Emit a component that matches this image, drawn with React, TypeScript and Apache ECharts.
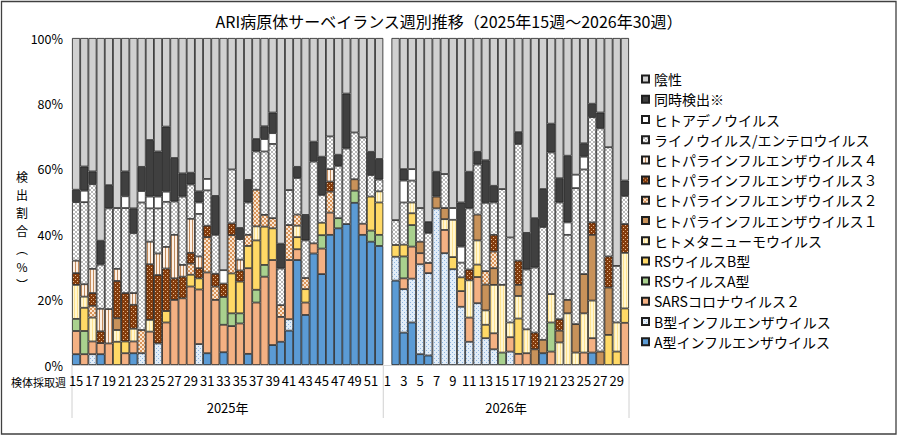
import React, { useEffect, useRef } from "react";
import * as echarts from "echarts";

const FONT = '"Noto Sans CJK JP", "Noto Sans", sans-serif';

const titleText = "ARI病原体サーベイランス週別推移（2025年15週～2026年30週）";
const weekAxisName = "検体採取週";
const yAxisTitle = ["検", "出", "割", "合", "︵", "%", "︶"];
const years = ["2025年", "2026年"];

const weeks2025 = ["15","16","17","18","19","20","21","22","23","24","25","26","27","28","29","30","31","32","33","34","35","36","37","38","39","40","41","42","43","44","45","46","47","48","49","50","51","52"];
const weeks2026 = ["1","2","3","4","5","6","7","8","9","10","11","12","13","14","15","16","17","18","19","20","21","22","23","24","25","26","27","28","29","30"];

const seriesNames = [
  "A型インフルエンザウイルス",
  "B型インフルエンザウイルス",
  "SARSコロナウイルス２",
  "RSウイルスA型",
  "RSウイルスB型",
  "ヒトメタニューモウイルス",
  "ヒトパラインフルエンザウイルス１",
  "ヒトパラインフルエンザウイルス２",
  "ヒトパラインフルエンザウイルス３",
  "ヒトパラインフルエンザウイルス４",
  "ライノウイルス/エンテロウイルス",
  "ヒトアデノウイルス",
  "同時検出※",
  "陰性",
];

// values in % ; 2025 wk15-52 then 2026 wk1-30
const fluA = [
  3.3, 0, 0, 3.3, 0, 0, 0, 3.6, 0, 0,
  0, 0, 0, 0, 0, 0, 3.6, 0, 3.9, 0,
  0, 3.4, 0, 0, 6.1, 7.1, 10.5, 32.1, 15.3, 34.1,
  27.8, 39.8, 41.8, 43.1, 49.6, 39.8, 37.7, 36.4,
  null, 25.8, 9.9, 13.0, 3.3, 2.9, 0, 0, 0, 0,
  0, 0, 0, 0, 0, 0, 0, 0, 0, 3.6,
  0, 0, 0, 0, 0, 3.8, 0, 0, 0, 0,
];
const fluB = [
  0, 0, 3.3, 0, 0, 0, 0, 0, 3.6, 0,
  6.6, 0, 0, 0, 0, 6.4, 0, 0, 0, 0,
  0, 0, 0, 0, 0, 0, 3.5, 0, 0, 0,
  0, 0, 0, 0, 0, 0, 0, 0,
  null, 7.3, 13.3, 13.4, 27.5, 25.2, 47.9, 34.2, 29.3, 17.8,
  7.1, 18.9, 8.2, 4.8, 0, 4.1, 0, 0, 0, 0,
  0, 0, 0, 0, 0, 0, 0, 0, 0, 0,
];
const sars = [
  7.1, 3.3, 3.9, 3.4, 6.6, 0, 3.6, 3.6, 0, 10.2,
  0, 13.0, 19.9, 20.4, 24.0, 16.7, 24.7, 19.9, 8.4, 11.9,
  12.7, 26.2, 19.1, 27.0, 26.0, 7.6, 18.1, 3.3, 3.8, 3.1,
  7.8, 6.8, 0, 0, 0, 3.4, 0, 0,
  null, 0, 3.3, 9.8, 3.4, 3.1, 0, 7.1, 0, 4.8,
  7.4, 8.0, 0, 4.9, 0, 4.4, 3.4, 3.6, 0, 0,
  4.1, 0, 0, 0, 3.8, 4.4, 0, 0, 0, 12.9,
];
const rsvA = [
  3.7, 7.1, 0, 0, 0, 0, 0, 0, 0, 0,
  0, 0, 0, 0, 0, 0, 0, 0, 8.5, 3.9,
  3.1, 0, 3.9, 3.6, 0, 0, 0, 0, 0, 0,
  4.1, 0, 3.1, 0, 3.7, 0, 3.4, 3.4,
  null, 0, 6.7, 6.6, 0, 0, 0, 0, 0, 0,
  0, 0, 0, 0, 3.8, 0, 0, 0, 0, 0,
  8.9, 0, 0, 0, 0, 0, 0, 0, 0, 0,
];
const rsvB = [
  0, 7.1, 0, 0, 0, 7.1, 3.6, 0, 0, 0,
  0, 3.5, 0, 0, 3.6, 3.4, 0, 0, 0, 12.2,
  9.7, 6.8, 15.1, 11.7, 9.7, 0, 0, 3.7, 4.1, 0,
  3.8, 0, 0, 0, 0, 0, 10.4, 9.9,
  null, 3.6, 3.6, 3.6, 0, 0, 0, 0, 3.7, 4.2,
  0, 3.8, 4.1, 0, 0, 0, 10.8, 0, 0, 0,
  0, 0, 0, 0, 0, 0, 0, 9.2, 4.1, 4.4,
];
const hmpv = [
  10.4, 3.4, 7.3, 0, 0, 3.6, 0, 3.9, 0, 3.6,
  0, 0, 0, 0, 0, 0, 0, 0, 0, 0,
  0, 0, 4.3, 0, 0, 0, 0, 3.5, 0, 0,
  0, 0, 0, 0, 0, 0, 0, 3.4,
  null, 0, 0, 3.3, 0, 0, 0, 3.3, 11.4, 0,
  11.4, 7.4, 4.4, 14.8, 20.7, 4.5, 6.9, 7.3, 0, 0,
  8.7, 6.9, 15.8, 3.8, 12.0, 11.5, 0, 0, 8.9, 17.0,
];
const para1 = [
  0, 0, 0, 0, 0, 3.6, 0, 0, 0, 0,
  0, 0, 0, 0, 0, 0, 0, 0, 0, 0,
  0, 0, 0, 0, 0, 0, 0, 0, 0, 0,
  0, 0, 0, 0, 3.5, 0, 0, 0,
  null, 0, 0, 0, 3.5, 0, 3.6, 3.4, 0, 0,
  0, 7.9, 7.9, 5.1, 0, 0, 3.4, 0, 4.8, 4.1,
  0, 3.6, 4.1, 8.7, 12.0, 20.1, 4.1, 14.5, 0, 0,
];
const para2 = [
  0, 0, 3.6, 0, 0, 0, 0, 0, 7.1, 0,
  0, 0, 0, 0, 3.4, 0, 10.8, 4.1, 0, 11.7,
  0, 3.4, 11.2, 3.6, 3.1, 3.6, 10.7, 3.4, 3.4, 0,
  0, 6.4, 0, 0, 0, 0, 0, 0,
  null, 0, 0, 0, 0, 0, 0, 0, 0, 0,
  0, 0, 4.1, 5.1, 0, 0, 0, 0, 0, 0,
  0, 0, 0, 0, 0, 0, 0, 0, 0, 0,
];
const para3 = [
  3.6, 0, 3.9, 3.6, 0, 11.4, 14.8, 7.3, 0, 17.0,
  20.9, 13.0, 6.6, 6.6, 3.3, 3.1, 3.5, 3.9, 4.1, 3.6,
  3.4, 0, 0, 0, 0, 0, 0, 0, 0, 0,
  0, 3.1, 0, 0, 0, 0, 0, 0,
  null, 0, 0, 0, 0, 0, 0, 0, 0, 0,
  3.3, 0, 0, 5.1, 0, 0, 7.4, 0, 5.1, 0,
  0, 3.5, 0, 0, 0, 3.8, 0, 9.5, 0, 8.8,
];
const para4 = [
  3.8, 3.8, 7.4, 6.9, 10.5, 3.7, 0, 3.6, 0, 6.9,
  6.6, 6.6, 13.3, 3.6, 10.4, 3.6, 0, 0, 0, 0,
  3.3, 0, 0, 0, 0, 0, 0, 0, 0, 0,
  0, 3.8, 0, 0, 0, 0, 0, 0,
  null, 0, 0, 0, 0, 0, 0, 0, 0, 0,
  0, 0, 0, 0, 0, 0, 0, 0, 0, 0,
  0, 0, 0, 0, 0, 0, 0, 0, 0, 0,
];
const rhino = [
  17.9, 25.1, 25.9, 13.5, 30.8, 18.6, 26.0, 18.3, 39.0, 10.2,
  13.8, 13.8, 10.2, 20.9, 10.5, 13.0, 10.8, 11.9, 0, 16.5,
  6.3, 9.9, 11.7, 19.4, 22.7, 11.2, 10.7, 11.2, 11.5, 25.0,
  8.5, 10.0, 16.0, 23.1, 14.3, 26.4, 6.6, 3.6,
  null, 7.6, 12.9, 6.7, 10.3, 9.2, 0, 10.4, 0, 4.5,
  18.7, 15.3, 20.9, 9.9, 29.3, 26.0, 35.7, 18.3, 19.9, 34.5,
  43.3, 35.7, 19.9, 41.6, 32.0, 32.2, 68.3, 33.4, 17.3, 8.6,
];
const adeno = [
  0, 3.5, 0, 0, 0, 0, 3.6, 0, 3.5, 3.6,
  3.6, 3.1, 0, 0, 0, 3.5, 3.5, 0, 4.1, 0,
  0, 0, 0, 3.8, 3.3, 0, 0, 0, 0, 0,
  0, 0, 0, 0, 0, 0, 0, 0,
  null, 0, 6.7, 3.5, 0, 0, 0, 0, 3.6, 4.9,
  0, 0, 0, 0, 0, 0, 0, 0, 0, 0,
  0, 0, 3.8, 4.1, 3.9, 0, 0, 0, 0, 0,
];
const multi = [
  3.8, 7.4, 3.9, 7.3, 7.1, 0, 7.6, 7.6, 7.4, 17.3,
  13.8, 19.9, 13.3, 7.1, 3.6, 3.4, 0, 11.9, 0, 0,
  3.4, 6.9, 3.8, 3.9, 6.3, 7.6, 0, 3.4, 7.8, 6.1,
  11.7, 0, 3.4, 16.8, 0, 0, 7.1, 6.3,
  null, 0, 3.5, 0, 0, 3.3, 7.6, 0, 0, 13.5,
  11.2, 3.9, 13.0, 5.1, 0, 0, 3.6, 11.2, 15.1, 11.6,
  8.8, 7.4, 20.4, 0, 4.1, 4.1, 4.8, 0, 0, 4.7,
];
const negative = [
  46.4, 39.3, 40.8, 62.0, 45.0, 52.0, 40.8, 52.1, 39.4, 31.2,
  34.7, 27.1, 36.7, 41.4, 41.2, 46.9, 43.1, 48.3, 71.0, 40.2,
  58.1, 43.4, 30.9, 27.0, 22.8, 62.9, 46.5, 39.4, 54.1, 31.7,
  36.3, 30.1, 35.7, 17.0, 28.9, 30.4, 34.8, 37.0,
  null, 55.7, 40.1, 40.1, 52.0, 56.3, 40.9, 41.6, 52.0, 50.3,
  40.9, 34.8, 37.4, 45.2, 46.2, 61.0, 28.8, 59.6, 55.1, 46.2,
  26.2, 42.9, 36.0, 41.8, 32.2, 20.1, 22.8, 33.4, 69.7, 43.6,
];

const seriesValues = [fluA, fluB, sars, rsvA, rsvB, hmpv, para1, para2, para3, para4, rhino, adeno, multi, negative];

function tile(w: number, h: number, bg: string, fg: string, pts: number[][]) {
  const c = document.createElement("canvas");
  c.width = w;
  c.height = h;
  const g = c.getContext("2d");
  if (g) {
    g.fillStyle = bg;
    g.fillRect(0, 0, w, h);
    g.fillStyle = fg;
    pts.forEach(([x, y]) => g.fillRect(x, y, 1, 1));
  }
  return { image: c, repeat: "repeat", imageWidth: w, imageHeight: h };
}

export default function App() {
  const ref = useRef<HTMLDivElement>(null);
  useEffect(() => {
    document.body.style.margin = "0";
    const el = ref.current;
    if (!el) return;
    const chart = echarts.init(el, undefined, { renderer: "svg" });

    const colors: any[] = [
      "#5b9bd5",
      tile(4, 4, "#e2edf8", "#8db3de", [[0, 0], [2, 2]]),
      "#f4b183",
      "#a9d18e",
      "#ffd966",
      tile(3, 1, "#fff6d2", "#ffe38f", [[2, 0]]),
      "#c8925a",
      tile(4, 4, "#d9955a", "#fbe6d2", [[0, 0], [1, 0], [0, 1], [1, 1], [2, 2], [3, 2], [2, 3], [3, 3]]),
      tile(4, 4, "#843c0c", "#e8bc94", [[1, 1], [3, 3]]),
      tile(3, 1, "#fcefe4", "#c38c5c", [[0, 0]]),
      tile(4, 4, "#ffffff", "#bababa", [[0, 0], [1, 1], [2, 2], [3, 3], [3, 0], [2, 1], [1, 2], [0, 3]]),
      "#ffffff",
      "#404040",
      "#d0d0d0",
    ];

    const categories = [...weeks2025, ...weeks2026];

    chart.setOption({
      animation: false,
      backgroundColor: "#ffffff",
      title: {
        text: titleText,
        left: "center",
        top: 8,
        textStyle: { fontFamily: FONT, fontSize: 16, fontWeight: "normal", color: "#000" },
      },
      legend: {
        data: [...seriesNames].reverse(),
        orient: "vertical",
        left: 641,
        top: 72,
        padding: 0,
        itemWidth: 7,
        itemHeight: 7,
        itemGap: 6,
        icon: "rect",
        selectedMode: false,
        textStyle: { fontFamily: FONT, fontSize: 14, lineHeight: 14.2, color: "#000" },
      },
      grid: { left: 72, right: 269, top: 38, bottom: 72 },
      xAxis: {
        type: "category",
        data: categories,
        axisTick: { show: false },
        axisLine: { lineStyle: { color: "#d9d9d9", width: 1 } },
        axisLabel: { interval: 1, fontSize: 13, color: "#000", margin: 9, fontFamily: FONT },
        splitLine: { show: false },
      },
      yAxis: {
        type: "value",
        min: 0,
        max: 100,
        interval: 20,
        axisLabel: { formatter: "{value}%", fontSize: 12.5, color: "#000", margin: 9, fontFamily: FONT },
        splitLine: { show: false },
        axisLine: { show: false },
        axisTick: { show: false },
      },
      series: seriesNames.map((name, k) => ({
        name,
        type: "bar",
        stack: "total",
        barCategoryGap: "0%",
        data: seriesValues[k].map((v) => (v === 0 ? null : v)),
        itemStyle: { color: colors[k], borderColor: "#1e1e1e", borderWidth: 0.8 },
        emphasis: { disabled: true },
      })),
    });

    const px = (i: number) => chart.convertToPixel({ xAxisIndex: 0 }, i) as number;
    const w = px(1) - px(0);
    const b0 = px(0) - w / 2;
    const b1 = px(weeks2025.length) - w / 2;
    const b2 = px(categories.length - 1) + w / 2;
    const yb = chart.convertToPixel({ yAxisIndex: 0 }, 0) as number;
    const sepStyle = { stroke: "#d0d0d0", lineWidth: 1 };
    const txt = (x: number, y: number, text: string, size: number, align = "center") => ({
      type: "text",
      x,
      y,
      silent: true,
      style: {
        text,
        fontSize: size,
        fontFamily: FONT,
        fill: "#000",
        align,
        textAlign: align,
        verticalAlign: "middle",
        textVerticalAlign: "middle",
      },
    });

    chart.setOption({
      graphic: [
        { type: "line", silent: true, shape: { x1: b0, y1: yb, x2: b0, y2: yb + 53 }, style: sepStyle },
        { type: "line", silent: true, shape: { x1: b1, y1: yb, x2: b1, y2: yb + 53 }, style: sepStyle },
        { type: "line", silent: true, shape: { x1: b2, y1: yb, x2: b2, y2: yb + 53 }, style: sepStyle },
        txt((b0 + b1) / 2, yb + 42.5, years[0], 13),
        txt((b1 + b2) / 2, yb + 42.5, years[1], 13),
        txt(11, yb + 17, weekAxisName, 11, "left"),
        ...yAxisTitle.map((ch, i) => txt(22, 176 + i * 18, ch, 12)),
        {
          type: "rect",
          silent: true,
          z: 100,
          shape: { x: 1.5, y: 1.5, width: 894.5, height: 432.5 },
          style: { fill: "none", stroke: "#404040", lineWidth: 1.3 },
        },
      ],
    });

    return () => chart.dispose();
  }, []);

  return <div ref={ref} style={{ width: 898, height: 437 }} />;
}
